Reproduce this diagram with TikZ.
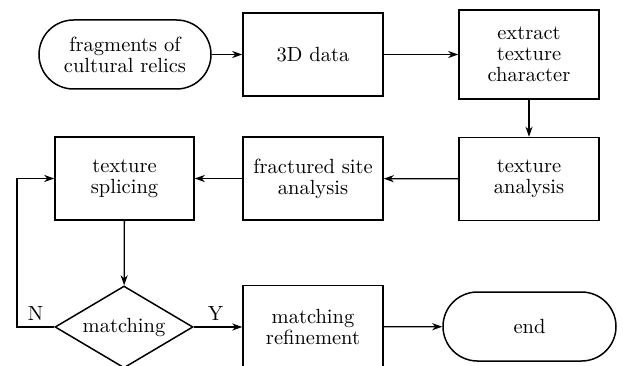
\documentclass[tikz,border=0pt]{standalone}
\usepackage{fontspec}
\setmainfont{lmroman10-regular.otf}
\usetikzlibrary{shapes.geometric,arrows.meta}
\begin{document}
\begin{tikzpicture}[x=1pt,y=-1pt,
  every node/.style={font=\fontsize{20.5}{21}\selectfont, align=center, inner sep=0pt},
  box/.style={draw, line width=1.5pt, minimum width=140pt, minimum height=83pt},
  term/.style={draw, line width=1.5pt, rounded corners=34.5pt, minimum width=172pt, minimum height=69pt},
  decide/.style={draw, diamond, aspect=1.68, line width=1.5pt, minimum width=138pt, minimum height=82pt},
  flow/.style={line width=1.3pt, -{Stealth[length=10pt,width=7pt,inset=3pt]}}]
  \clip (0,0) rectangle (623,366);
  \fill[white] (0,0) rectangle (623,366);
  % top row
  \node[term] (start) at (125,54.5) {fragments of\\cultural relics};
  \node[box] (data) at (313,54.5) {3D data};
  \node[box, minimum height=89pt] (extract) at (529,54.5) {extract\\texture\\character};
  % middle row
  \node[box] (tex) at (529,179) {texture\\analysis};
  \node[box] (site) at (313,178.5) {fractured site\\analysis};
  \node[box, minimum width=139pt] (splice) at (124.5,178.5) {texture\\splicing};
  % bottom row
  \node[decide] (match) at (124,327) {matching};
  \node[box] (refine) at (313,327) {matching\\refinement};
  \node[term, minimum width=173pt] (end) at (529.5,326.5) {end};
  \coordinate (loop) at (17,327);
  % connectors
  \draw[flow] (start) -- (data);
  \draw[flow] (data) -- (extract);
  \draw[flow] (extract) -- (tex);
  \draw[flow] (tex) -- (site);
  \draw[flow] (site) -- (splice);
  \draw[flow] (splice) -- (match);
  \draw[flow] (match) -- node[above=6pt, pos=0.45] {Y} (refine);
  \draw[flow] (refine) -- (end);
  \draw[flow] (match.west) -- node[above=6pt, pos=0.5] {N} (loop) |- (splice.west);
\end{tikzpicture}
\end{document}
